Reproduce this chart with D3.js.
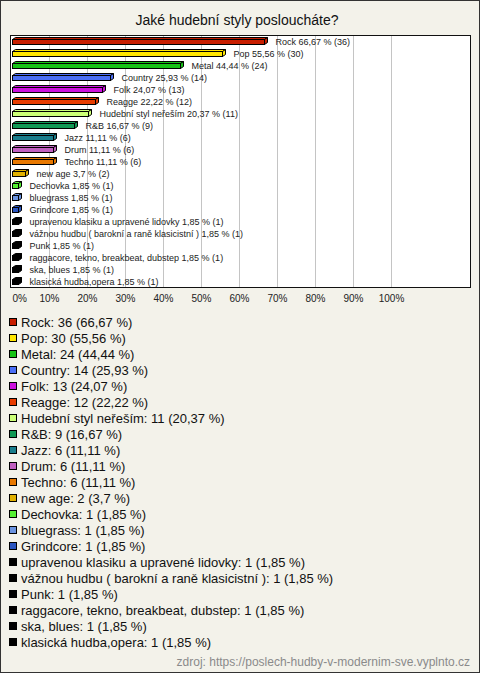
<!DOCTYPE html>
<html><head><meta charset="utf-8">
<script src="https://cdn.jsdelivr.net/npm/d3@7"></script>
<style>
html,body{margin:0;padding:0;background:#f3f2ea;}
svg{display:block;font-family:"Liberation Sans",Arial,sans-serif;}
</style></head>
<body>
<script>
const categories = ["Rock","Pop","Metal","Country","Folk","Reagge","Hudební styl neřeším","R&B","Jazz","Drum","Techno","new age","Dechovka","bluegrass","Grindcore","upravenou klasiku a upravené lidovky","vážnou hudbu ( barokní a raně klasicistní )","Punk","raggacore, tekno, breakbeat, dubstep","ska, blues","klasická hudba,opera"];
const counts = [36,30,24,14,13,12,11,9,6,6,6,2,1,1,1,1,1,1,1,1,1];
const percents = [66.67,55.56,44.44,25.93,24.07,22.22,20.37,16.67,11.11,11.11,11.11,3.7,1.85,1.85,1.85,1.85,1.85,1.85,1.85,1.85,1.85];
const colors = ["#c81e00","#ffe600","#16c316","#4a6ef5","#cc11dd","#e83c00","#ccff77","#119955","#1a7d8c","#c060c0","#e87800","#e0b000","#55ee33","#6a93e0","#2a55c0","#000000","#000000","#000000","#000000","#000000","#000000"];
const tickValues = [0,10,20,30,40,50,60,70,80,90,100];
const title = "Jaké hudební styly posloucháte?";
const source = "zdroj: https://poslech-hudby-v-modernim-sve.vyplnto.cz";

const W = 480, H = 673;
const fmt = v => String(v).replace(".", ",");
const svg = d3.select("body").append("svg").attr("width", W).attr("height", H);

svg.append("rect").attr("x",0.5).attr("y",0.5).attr("width",W-1).attr("height",H-1)
  .attr("fill","#f3f2ea").attr("stroke","#333");

svg.append("text").attr("x",237).attr("y",25).attr("text-anchor","middle")
  .attr("font-size",14).attr("fill","#111").text(title);

const box = {x0:10.5, y0:35.5, x1:470.5, y1:287.5};
svg.append("rect").attr("x",box.x0).attr("y",box.y0).attr("width",box.x1-box.x0).attr("height",box.y1-box.y0)
  .attr("fill","#fff");

const x = d3.scaleLinear().domain([0,100]).range([11,391]);
const y = d3.scaleBand().domain(categories).range([36,288]).paddingInner(0);

svg.append("g").selectAll("line").data(tickValues.slice(1)).join("line")
  .attr("x1",d=>Math.round(x(d))+0.5).attr("x2",d=>Math.round(x(d))+0.5)
  .attr("y1",box.y0).attr("y2",box.y1).attr("stroke","#c4c4c4");

svg.append("rect").attr("x",box.x0).attr("y",box.y0).attr("width",box.x1-box.x0).attr("height",box.y1-box.y0)
  .attr("fill","none").attr("stroke","#111");

const data = categories.map((c,i)=>({c, n:counts[i], p:percents[i], col:colors[i]}));
const dep = 3;
const g = svg.append("g");
const bars = g.selectAll("g.bar").data(data).join("g").attr("class","bar");
bars.each(function(d){
  const gg = d3.select(this);
  const x0 = 12.5, x1 = Math.round(x(d.p))+0.5;
  const yc = Math.round(y(d.c) + y.bandwidth()/2);
  const top = yc - 2.5, bot = yc + 2.5;
  gg.append("path").attr("d",`M${x0},${top}L${x0+dep},${top-dep+1}L${x1+dep},${top-dep+1}L${x1},${top}Z`)
    .attr("fill",d.col).attr("stroke","#000").attr("stroke-width",1);
  gg.append("path").attr("d",`M${x1},${top}L${x1+dep},${top-dep+1}L${x1+dep},${bot-dep+1}L${x1},${bot}Z`)
    .attr("fill",d.col).attr("stroke","#000").attr("stroke-width",1);
  gg.append("rect").attr("x",x0).attr("y",top).attr("width",x1-x0).attr("height",bot-top)
    .attr("fill",d.col).attr("stroke","#000").attr("stroke-width",1);
  gg.append("text").attr("x",x1+dep+8).attr("y",yc+3).attr("font-size",9)
    .attr("fill","#222").text(`${d.c} ${fmt(d.p)} % (${d.n})`);
});

const axis = d3.axisBottom(x).tickValues(tickValues).tickSize(0).tickFormat(d=>d+"%");
const ax = svg.append("g").attr("transform","translate(0,292)").call(axis);
ax.select(".domain").remove();
ax.selectAll("text").attr("font-size",10).attr("fill","#222").attr("font-family","'Liberation Sans',Arial,sans-serif");
ax.selectAll(".tick").filter(d=>d===0).select("text").attr("text-anchor","start").attr("dx",1);

const leg = svg.append("g");
const li = leg.selectAll("g").data(data).join("g")
  .attr("transform",(d,i)=>`translate(0,${322+i*16})`);
li.append("rect").attr("x",9.5).attr("y",-3.5).attr("width",7).attr("height",7)
  .attr("fill",d=>d.col).attr("stroke","#000");
li.append("text").attr("x",21).attr("y",5).attr("font-size",13).attr("fill","#111")
  .text(d=>`${d.c}: ${d.n} (${fmt(d.p)} %)`);

svg.append("text").attr("x",470).attr("y",666).attr("text-anchor","end")
  .attr("font-size",12).attr("fill","#8a8a8a").text(source);
</script>
</body></html>
